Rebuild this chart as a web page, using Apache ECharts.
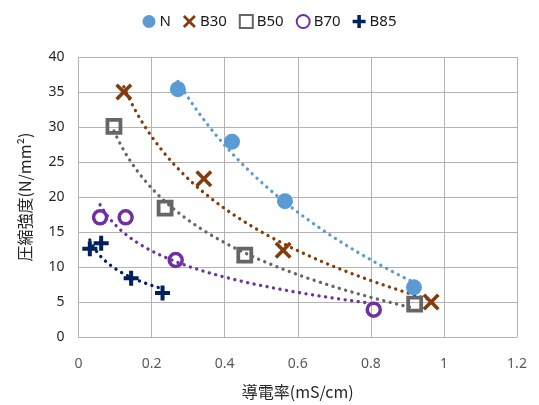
<!DOCTYPE html>
<html><head><meta charset="utf-8">
<script src="https://cdn.jsdelivr.net/npm/echarts@6/dist/echarts.min.js"></script>
<style>html,body{margin:0;padding:0;background:#fff}#c{width:539px;height:405px}</style>
</head><body><div id="c"></div>
<script>
// Data (x = 導電率 mS/cm, y = 圧縮強度 N/mm2)
const seriesNames = ['N', 'B30', 'B50', 'B70', 'B85'];
const N_x   = [0.272, 0.420, 0.565, 0.918];
const N_y   = [35.4, 27.9, 19.4, 7.1];
const B30_x = [0.124, 0.343, 0.560, 0.965];
const B30_y = [35.0, 22.6, 12.4, 5.0];
const B50_x = [0.097, 0.237, 0.455, 0.920];
const B50_y = [30.1, 18.4, 11.7, 4.7];
const B70_x = [0.059, 0.129, 0.266, 0.808];
const B70_y = [17.1, 17.1, 11.0, 3.9];
const B85_x = [0.031, 0.062, 0.144, 0.230];
const B85_y = [12.6, 13.4, 8.4, 6.3];
const xTicks = [0, 0.2, 0.4, 0.6, 0.8, 1, 1.2];
const yTicks = [0, 5, 10, 15, 20, 25, 30, 35, 40];

const colors = ['#5B9BD5', '#843C0C', '#666666', '#7030A0', '#002060'];
const xs = [N_x, B30_x, B50_x, B70_x, B85_x];
const ys = [N_y, B30_y, B50_y, B70_y, B85_y];

const X_PATH = 'path://M0,3 L3,0 L10,7 L17,0 L20,3 L13,10 L20,17 L17,20 L10,13 L3,20 L0,17 L7,10 Z';
const PLUS_PATH = 'path://M7.3,0 H12.7 V7.3 H20 V12.7 H12.7 V20 H7.3 V12.7 H0 V7.3 H7.3 Z';
const symbols = [
  {symbol: 'circle', size: 16, style: {color: colors[0], opacity: 1}},
  {symbol: X_PATH, size: 17, style: {color: colors[1], opacity: 1}},
  {symbol: 'rect', size: 13, style: {color: 'rgba(0,0,0,0)', borderColor: colors[2], borderWidth: 3.8, opacity: 1}},
  {symbol: 'circle', size: 13, style: {color: 'rgba(0,0,0,0)', borderColor: colors[3], borderWidth: 3.5, opacity: 1}},
  {symbol: PLUS_PATH, size: 15, style: {color: colors[4], opacity: 1}}
];

// Logarithmic trendline (least squares y = a + b ln x), as in the spreadsheet chart
function logTrend(x, y) {
  const lx = x.map(Math.log);
  const n = x.length;
  const mx = lx.reduce((s, v) => s + v, 0) / n;
  const my = y.reduce((s, v) => s + v, 0) / n;
  let sxy = 0, sxx = 0;
  for (let i = 0; i < n; i++) { sxy += (lx[i] - mx) * (y[i] - my); sxx += (lx[i] - mx) ** 2; }
  const b = sxy / sxx, a = my - b * mx;
  const lo = Math.min(...x), hi = Math.max(...x);
  const pts = [];
  const steps = 80;
  for (let i = 0; i <= steps; i++) {
    const t = lo + (hi - lo) * i / steps;
    pts.push([t, a + b * Math.log(t)]);
  }
  return pts;
}

const series = [];
seriesNames.forEach((nm, i) => {
  series.push({
    name: nm + ' trend', type: 'line', data: logTrend(xs[i], ys[i]),
    showSymbol: false, silent: true, smooth: false, z: 1,
    lineStyle: {color: colors[i], width: 3.3, type: [0.1, 6.5], cap: 'round'}
  });
});
seriesNames.forEach((nm, i) => {
  series.push({
    name: nm, type: 'scatter', z: 3,
    data: xs[i].map((v, k) => [v, ys[i][k]]),
    symbol: symbols[i].symbol, symbolSize: symbols[i].size,
    itemStyle: symbols[i].style
  });
});

const chart = echarts.init(document.getElementById('c'), null, {renderer: 'canvas'});
chart.setOption({
  animation: false,
  backgroundColor: '#ffffff',
  legend: {
    data: seriesNames, top: 9, left: 'center',
    itemWidth: 13, itemHeight: 13, itemGap: 12,
    textStyle: {fontFamily: 'Noto Sans', fontSize: 15, color: '#1a1a1a', padding: [0, 0, 0, -1]}
  },
  grid: {left: 78.5, right: 22, top: 57, bottom: 68, containLabel: false, outerBoundsMode: 'none'},
  xAxis: {
    type: 'value', min: xTicks[0], max: xTicks[xTicks.length - 1], interval: 0.2,
    name: '導電率(mS/cm)', nameLocation: 'middle', nameGap: 47,
    nameTextStyle: {fontFamily: 'Noto Sans CJK JP', fontSize: 16, color: '#262626'},
    axisLine: {show: true, lineStyle: {color: '#b3b3b3'}},
    axisTick: {show: false},
    axisLabel: {margin: 20, fontFamily: 'Noto Sans', fontSize: 14, color: '#595959',
      formatter: v => String(Math.round(v * 10) / 10)},
    splitLine: {show: true, lineStyle: {color: '#b3b3b3', width: 1}}
  },
  yAxis: {
    type: 'value', min: yTicks[0], max: yTicks[yTicks.length - 1], interval: 5,
    name: '圧縮強度(N/mm²)', nameLocation: 'middle', nameGap: 46, nameRotate: 90,
    nameTextStyle: {fontFamily: 'Noto Sans CJK JP', fontSize: 16, color: '#262626'},
    axisLine: {show: true, lineStyle: {color: '#b3b3b3'}},
    axisTick: {show: false},
    axisLabel: {margin: 14, fontFamily: 'Noto Sans', fontSize: 14, color: '#262626'},
    splitLine: {show: true, lineStyle: {color: '#b3b3b3', width: 1}}
  },
  series: series
});
</script>
</body></html>
